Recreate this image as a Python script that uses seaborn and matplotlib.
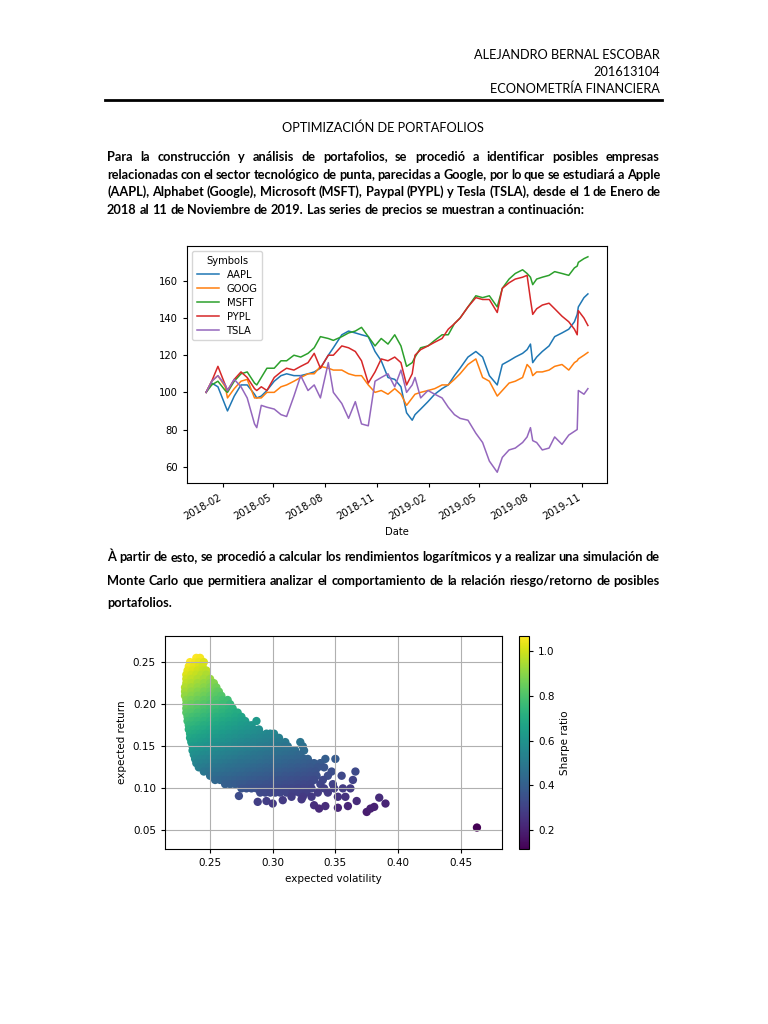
import numpy as np
import pandas as pd
import matplotlib
matplotlib.use("Agg")
import matplotlib.pyplot as plt
import matplotlib.dates as mdates
from matplotlib.lines import Line2D
import seaborn as sns

# ---- price series (normalised to 100) ----
dates_2018 = ["2018-01-02", "2018-01-12", "2018-01-23", "2018-02-05", "2018-02-09", "2018-02-21",
              "2018-03-05", "2018-03-16", "2018-03-29", "2018-04-02", "2018-04-10", "2018-04-20",
              "2018-05-03", "2018-05-15", "2018-05-25", "2018-06-07", "2018-06-19", "2018-07-02",
              "2018-07-13", "2018-07-24", "2018-08-07", "2018-08-16", "2018-08-31", "2018-09-12",
              "2018-09-24", "2018-10-05", "2018-10-17", "2018-10-29", "2018-11-09", "2018-11-21",
              "2018-12-03", "2018-12-14", "2018-12-24"]
dates_2019 = ["2019-01-03", "2019-01-08", "2019-01-18", "2019-01-31", "2019-02-12", "2019-02-25",
              "2019-03-08", "2019-03-19", "2019-03-29", "2019-04-12", "2019-04-26", "2019-05-08",
              "2019-05-20", "2019-06-03", "2019-06-12", "2019-06-24", "2019-07-05", "2019-07-18",
              "2019-07-26", "2019-08-01", "2019-08-05", "2019-08-12", "2019-08-22", "2019-09-03",
              "2019-09-13", "2019-09-26", "2019-10-08", "2019-10-18", "2019-10-23", "2019-10-25",
              "2019-11-04", "2019-11-11"]

aapl = [100, 105, 103, 93, 90, 98, 104, 104, 99, 97, 98, 101, 106, 109, 110, 109, 109, 110, 111, 113,
        120, 124, 131, 133, 132, 131, 130, 122, 117, 108, 107, 103, 89,
        85, 88, 91, 95, 99, 102, 104, 109, 113, 119, 122, 119, 109, 104, 115, 117, 119, 121, 123, 126,
        116, 119, 122, 125, 130, 132, 134, 138, 142, 146, 151, 153]
goog = [100, 106, 109, 103, 97, 102, 106, 107, 97, 97, 97, 100, 100, 103, 104, 106, 108, 110, 110, 114,
        113, 112, 112, 110, 109, 109, 104, 100, 101, 99, 102, 99, 93,
        97, 99, 100, 101, 102, 104, 104, 107, 110, 115, 118, 108, 106, 98, 101, 105, 106, 108, 115, 113,
        109, 111, 111, 112, 114, 115, 112, 116, 117, 118, 120, 121.5]
msft = [100, 104, 106, 101, 100, 106, 110, 111, 105, 104, 108, 113, 113, 117, 117, 120, 119, 121, 124, 130,
        129, 128, 130, 132, 133, 135, 130, 125, 129, 126, 131, 125, 114,
        116, 119, 124, 125, 128, 131, 131, 137, 140, 146, 152, 151, 152, 146, 156, 161, 164, 166, 164, 162,
        158, 161, 162, 163, 165, 164, 163, 167, 168, 170, 172, 173]
pypl = [100, 106, 114, 104, 101, 107, 111, 108, 102, 101, 103, 101, 108, 111, 113, 112, 114, 116, 121, 113,
        120, 120, 125, 124, 122, 117, 105, 111, 118, 117, 119, 116, 104,
        110, 120, 123, 125, 127, 129, 134, 137, 140, 146, 151, 150, 150, 143, 156, 159, 161, 162, 163, 150,
        142, 145, 147, 148, 145, 141, 138, 134, 131, 144, 140, 136]
tsla = [100, 106, 109, 104, 101, 107, 103, 97, 83, 81, 93, 92, 91, 88, 87, 98, 109, 101, 104, 97,
        116, 100, 94, 86, 95, 83, 82, 106, 108, 110, 103, 112, 100,
        104, 108, 97, 101, 99, 97, 92, 88, 86, 85, 78, 73, 63, 57, 65, 69, 70, 73, 76, 81,
        74, 73, 69, 70, 76, 72, 77, 79, 80, 101, 99, 102]
symbols = ["AAPL", "GOOG", "MSFT", "PYPL", "TSLA"]

# ---- simulated portfolios: expected return rows and the volatilities seen on each row (x1000) ----
row_returns = [0.255, 0.250, 0.245, 0.240, 0.235, 0.230, 0.225, 0.220, 0.215, 0.210, 0.205, 0.200,
               0.195, 0.190, 0.185, 0.180, 0.175, 0.170, 0.165, 0.160, 0.155, 0.150, 0.145, 0.140,
               0.135, 0.130, 0.125, 0.120, 0.115, 0.110, 0.105, 0.100, 0.095, 0.090]
row_vols = [
    [239, 242],
    [234, 238, 241, 245],
    [233, 237, 241, 244],
    [232, 236, 240, 244, 247],
    [231, 235, 239, 243, 247],
    [231, 235, 240, 245, 250],
    [231, 235, 240, 245, 250, 253],
    [230, 235, 240, 245, 250, 255],
    [230, 235, 240, 245, 250, 255, 257],
    [230, 235, 240, 245, 250, 255, 259],
    [231, 235, 240, 245, 250, 255, 260, 264],
    [231, 235, 240, 245, 250, 255, 260, 266],
    [231, 235, 240, 245, 250, 255, 260, 265, 268],
    [231, 235, 240, 245, 250, 255, 260, 265, 270, 272],
    [232, 236, 240, 245, 250, 255, 260, 265, 270, 275],
    [232, 236, 240, 245, 250, 255, 260, 265, 270, 275, 278, 287],
    [233, 237, 241, 245, 250, 255, 260, 265, 270, 275, 280, 283],
    [233, 237, 241, 245, 250, 255, 260, 265, 270, 275, 280, 285, 289],
    [234, 238, 242, 246, 250, 255, 260, 265, 270, 275, 280, 285, 290, 295, 298, 301],
    [234, 238, 242, 246, 250, 255, 260, 265, 270, 275, 280, 285, 290, 295, 300, 305],
    [235, 239, 243, 247, 251, 255, 260, 265, 270, 275, 280, 285, 290, 295, 300, 305, 310, 322],
    [236, 240, 244, 248, 252, 256, 260, 265, 270, 275, 280, 285, 290, 295, 300, 305, 310, 312, 324],
    [236, 240, 244, 248, 252, 256, 260, 265, 270, 275, 280, 285, 290, 295, 300, 305, 310, 315, 318, 325],
    [237, 241, 245, 249, 253, 257, 261, 265, 270, 275, 280, 285, 290, 295, 300, 305, 310, 315, 320, 322],
    [238, 242, 246, 250, 254, 258, 262, 266, 270, 275, 280, 285, 290, 295, 300, 305, 310, 315, 320, 325,
     328, 342, 350],
    [239, 243, 247, 251, 255, 259, 263, 267, 271, 275, 280, 285, 290, 295, 300, 305, 310, 315, 320, 325,
     330, 333, 338],
    [241, 245, 249, 253, 257, 261, 265, 269, 273, 277, 281, 285, 290, 295, 300, 305, 310, 315, 320, 325,
     330, 336, 341],
    [245, 249, 253, 257, 261, 265, 269, 273, 277, 281, 285, 290, 295, 300, 305, 310, 315, 320, 325, 330,
     334, 347, 366],
    [250, 254, 258, 262, 266, 270, 274, 278, 282, 286, 290, 295, 300, 305, 310, 315, 320, 325, 330, 335,
     344, 355],
    [254, 258, 262, 266, 270, 274, 278, 282, 286, 290, 295, 300, 305, 310, 315, 320, 325, 330, 333, 340,
     364],
    [262, 266, 270, 274, 278, 282, 286, 290, 295, 300, 305, 310, 315, 320, 325, 330, 338, 348],
    [275, 279, 283, 287, 291, 295, 300, 305, 310, 315, 320, 325, 331, 341, 349, 356, 362],
    [290, 294, 298, 302, 306, 311, 316, 321, 327, 336, 344],
    [315, 324, 331, 352, 358],
]
stray_vols = [273, 288, 295, 300, 308, 323, 333, 337, 342, 352, 360, 367, 375, 378, 381, 385, 390, 463]
stray_rets = [0.091, 0.084, 0.085, 0.082, 0.086, 0.087, 0.080, 0.076, 0.079, 0.077, 0.079, 0.085,
              0.072, 0.076, 0.078, 0.089, 0.082, 0.0535]

header_lines = ["ALEJANDRO BERNAL ESCOBAR", "201613104", "ECONOMETRÍA FINANCIERA"]
title = "OPTIMIZACIÓN DE PORTAFOLIOS"
para1 = ["Para la construcción y análisis de portafolios, se procedió a identificar posibles empresas",
         "relacionadas con el sector tecnológico de punta, parecidas a Google, por lo que se estudiará a Apple",
         "(AAPL), Alphabet (Google), Microsoft (MSFT), Paypal (PYPL) y Tesla (TSLA), desde el 1 de Enero de",
         "2018 al 11 de Noviembre de 2019. Las series de precios se muestran a continuación:"]
para2 = ["À partir de esto, se procedió a calcular los rendimientos logarítmicos y a realizar una simulación de",
         "Monte Carlo que permitiera analizar el comportamiento de la relación riesgo/retorno de posibles",
         "portafolios."]

W, H = 768, 1024
fig = plt.figure(figsize=(W / 100, H / 100), dpi=100)
renderer = fig.canvas.get_renderer()


def fx(x):
    return x / W


def fy(y):
    return 1 - y / H


def axes_px(x0, y0, x1, y1):
    return fig.add_axes([fx(x0), fy(y1), (x1 - x0) / W, (y1 - y0) / H])


def width_of(s, **kw):
    t = fig.text(0, 0, s, **kw)
    w = t.get_window_extent(renderer).width
    t.remove()
    return w


def put_line(line, y, left=107, right=660, justify=True, **kw):
    words = line.split()
    widths = [width_of(w, **kw) for w in words]
    if justify and len(words) > 1:
        gap = (right - left - sum(widths)) / (len(words) - 1)
    else:
        gap = width_of("a a", **kw) - width_of("aa", **kw)
    x = left
    for w, wd in zip(words, widths):
        fig.text(fx(x), fy(y), w, ha="left", va="baseline", **kw)
        x += wd + gap


body = dict(family="Lato", fontsize=10, weight="bold")
# size the body font from the last line of the first paragraph
scale = (584 - 107) / width_of(para1[3], **body)
body["fontsize"] = 10 * scale
plain = dict(family="Lato", fontsize=body["fontsize"])

for line, y in zip(header_lines, [59, 76, 93]):
    fig.text(fx(660), fy(y), line, ha="right", va="baseline", **plain)
fig.add_artist(Line2D([fx(105), fx(662)], [fy(100), fy(100)], color="black", lw=2))
fig.text(fx(383), fy(132), title, ha="center", va="baseline", **plain)

for i, (line, y) in enumerate(zip(para1, [161, 179, 196, 214])):
    put_line(line, y, justify=i < 3, **body)
for i, (line, y) in enumerate(zip(para2, [561, 585, 607])):
    put_line(line, y, justify=i < 2, **body)

# ---- price chart ----
dates = pd.to_datetime(dates_2018 + dates_2019)
prices = pd.DataFrame(dict(zip(symbols, [aapl, goog, msft, pypl, tsla])), index=dates)
long = prices.rename_axis("Date").reset_index().melt(id_vars="Date", var_name="Symbols", value_name="Price")

ax1 = axes_px(187, 246, 607, 483)
sns.lineplot(data=long, x="Date", y="Price", hue="Symbols", palette=sns.color_palette("tab10", 5),
             lw=1.1, ax=ax1)
ax1.set_ylabel("")
ax1.set_xlabel("Date", fontsize=7.2)
ax1.set_yticks([60, 80, 100, 120, 140, 160])
ax1.xaxis.set_major_locator(mdates.MonthLocator(bymonth=[2, 5, 8, 11]))
ax1.xaxis.set_major_formatter(mdates.DateFormatter("%Y-%m"))
ax1.tick_params(labelsize=7.2, length=3)
for lab in ax1.get_xticklabels():
    lab.set_rotation(30)
    lab.set_ha("right")
ax1.legend(title="Symbols", loc="upper left", fontsize=7.2, title_fontsize=7.2,
           handlelength=2.2, borderpad=0.45, labelspacing=0.4)

# ---- risk / return scatter ----
vol = np.array([v / 1000 for row in row_vols for v in row] + [v / 1000 for v in stray_vols])
ret = np.array([r for r, row in zip(row_returns, row_vols) for _ in row] + stray_rets)
sharpe = ret / vol
norm = plt.Normalize(sharpe.min(), sharpe.max())

ax2 = axes_px(165, 636, 502, 849)
sns.scatterplot(x=vol, y=ret, hue=sharpe, hue_norm=norm, palette="viridis", s=36,
                linewidth=0, legend=False, ax=ax2)
ax2.set_xlim(0.214, 0.483)
ax2.set_ylim(0.028, 0.281)
ax2.set_xticks([0.25, 0.30, 0.35, 0.40, 0.45])
ax2.set_yticks([0.05, 0.10, 0.15, 0.20, 0.25])
ax2.grid(True, color="#b0b0b0", lw=0.8)
ax2.tick_params(labelsize=7.5, length=3)
ax2.set_xlabel("expected volatility", fontsize=7.5)
ax2.set_ylabel("expected return", fontsize=7.5)

cax = axes_px(519, 636, 529, 849)
sm = plt.cm.ScalarMappable(norm=norm, cmap="viridis")
cb = fig.colorbar(sm, cax=cax)
cb.set_ticks([0.2, 0.4, 0.6, 0.8, 1.0])
cb.ax.tick_params(labelsize=7.5, length=3)
cb.set_label("Sharpe ratio", fontsize=7.5)

fig.savefig("out.png", dpi=100)
